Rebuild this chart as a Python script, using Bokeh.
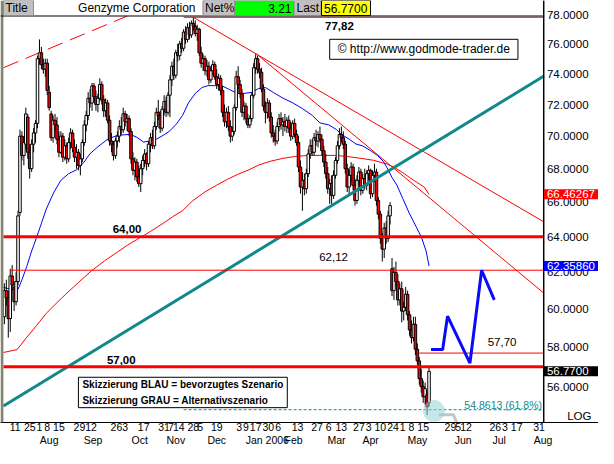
from bokeh.plotting import figure
from bokeh.models import (Range1d, FixedTicker, PrintfTickFormatter, LinearAxis, Label,
                          ColumnDataSource, Span, BoxAnnotation)
from bokeh.embed import file_html
from bokeh.resources import INLINE

FONT = "Liberation Sans"

# ---------------- data (trading-day index t, 0 = 11 Jul 2005) ----------------
t_first = -4
opens = [59.6, 61.0, 60.6, 59.5, 61.8, 61.2, 60.4, 61.5, 65.4, 70.0,
         68.8, 69.5, 71.2, 69.0, 68.0, 69.5, 70.2, 70.8, 75.0, 75.4,
         74.6, 74.3, 74.7, 72.8, 71.4, 69.9, 71.0, 70.7, 69.8, 69.0,
         70.0, 68.7, 69.4, 68.6, 69.6, 70.2, 69.3, 68.7, 69.0, 68.2,
         68.6, 69.6, 70.7, 71.3, 72.4, 72.1, 73.2, 72.5, 72.0, 72.4,
         73.3, 72.3, 71.6, 72.1, 71.0, 69.7, 69.5, 68.8, 69.7, 70.0,
         70.6, 70.4, 71.4, 70.9, 71.1, 70.3, 68.6, 67.9, 68.4, 67.5,
         67.1, 68.0, 68.5, 68.9, 68.3, 69.5, 69.9, 69.4, 70.6, 71.5,
         71.3, 70.5, 71.7, 72.2, 71.5, 72.6, 73.6, 74.5, 73.9, 75.4,
         75.2, 76.0, 75.7, 76.8, 76.3, 77.1, 76.6, 77.4, 77.2, 76.7,
         77.0, 75.4, 74.7, 75.0, 74.2, 74.5, 73.6, 74.2, 74.6, 73.8,
         73.3, 73.7, 72.9, 71.5, 70.9, 71.5, 70.6, 70.0, 70.3, 71.8,
         73.8, 73.3, 72.7, 71.5, 71.9, 71.1, 70.7, 71.1, 72.6, 74.4,
         75.0, 74.3, 74.1, 73.0, 71.9, 71.5, 72.1, 71.2, 70.2, 70.0,
         69.7, 70.6, 71.1, 70.7, 70.9, 70.6, 71.0, 70.5, 70.0, 70.8,
         70.1, 69.6, 68.1, 66.9, 67.3, 66.8, 67.7, 68.9, 69.4, 69.0,
         69.9, 69.7, 70.1, 69.8, 69.1, 68.4, 67.7, 66.8, 67.1, 66.4,
         67.6, 68.5, 69.4, 70.1, 69.9, 69.5, 68.0, 66.9, 67.6, 68.1,
         67.0, 66.1, 67.3, 67.8, 66.7, 67.4, 67.0, 67.7, 67.9, 66.5,
         67.6, 67.8, 66.1, 65.3, 63.9, 63.3, 64.5, 63.9, 65.2, 62.2,
         61.0, 62.0, 61.5, 60.5, 61.1, 59.9, 60.1, 60.8, 59.7, 58.9,
         58.5, 59.2, 57.9, 57.3, 56.4, 56.0, 55.5, 55.6, 55.2]
highs = [61.4, 61.6, 61.0, 62.2, 62.4, 61.5, 62.0, 65.5, 70.4, 70.3,
         70.0, 71.8, 71.4, 69.5, 69.8, 70.5, 71.0, 75.2, 76.3, 75.8,
         75.0, 75.0, 75.0, 73.2, 71.6, 71.3, 71.4, 71.2, 70.3, 70.3,
         70.2, 69.8, 69.6, 69.9, 70.5, 70.4, 69.8, 69.5, 69.2, 68.9,
         69.8, 71.0, 71.6, 72.8, 73.0, 73.4, 73.4, 72.9, 72.7, 73.7,
         73.5, 72.6, 72.4, 72.3, 71.3, 70.2, 69.7, 69.9, 70.3, 71.0,
         71.2, 71.8, 71.6, 71.4, 71.3, 70.5, 69.0, 68.7, 68.6, 68.2,
         68.3, 68.8, 69.2, 69.0, 69.7, 70.2, 70.4, 70.9, 71.8, 72.3,
         71.6, 71.9, 72.6, 72.5, 72.8, 73.9, 74.8, 75.0, 75.6, 76.0,
         76.2, 76.4, 77.0, 77.2, 77.4, 77.5, 77.6, 77.82, 77.6, 77.3,
         77.1, 75.8, 75.3, 75.2, 74.9, 74.8, 74.4, 74.9, 74.8, 74.3,
         74.0, 73.9, 73.2, 72.0, 71.8, 71.9, 71.0, 70.6, 72.0, 74.2,
         74.5, 73.6, 73.0, 72.2, 72.1, 71.4, 71.3, 72.8, 74.7, 75.3,
         75.2, 74.7, 74.4, 73.3, 72.2, 72.4, 72.3, 71.5, 70.7, 70.4,
         70.9, 71.4, 71.5, 71.2, 71.4, 71.2, 71.3, 70.9, 71.0, 71.1,
         70.4, 70.0, 68.5, 67.8, 67.7, 68.0, 69.2, 69.8, 69.8, 70.2,
         70.4, 70.3, 70.6, 70.1, 69.4, 68.9, 68.1, 67.4, 67.6, 67.9,
         68.7, 69.7, 70.5, 70.6, 70.3, 69.7, 68.3, 67.9, 68.4, 68.3,
         67.4, 67.6, 68.1, 68.0, 67.7, 68.0, 67.9, 68.2, 68.0, 67.9,
         68.3, 68.0, 66.3, 65.5, 64.2, 64.8, 64.9, 65.5, 66.0, 62.8,
         62.3, 62.6, 61.9, 61.4, 61.5, 60.4, 61.2, 61.0, 59.9, 59.4,
         59.6, 59.6, 58.2, 57.5, 56.9, 56.3, 56.2, 55.8, 57.0]
lows = [59.2, 60.2, 58.5, 58.8, 61.0, 59.9, 60.2, 61.3, 65.2, 68.5,
        68.2, 69.2, 68.6, 67.4, 67.8, 69.0, 69.6, 70.5, 74.6, 74.3,
        74.0, 73.8, 72.6, 71.6, 69.7, 69.6, 70.3, 69.5, 68.7, 68.9,
        68.4, 68.5, 68.3, 68.4, 69.2, 69.0, 68.4, 68.0, 67.9, 67.6,
        68.4, 69.4, 70.3, 71.0, 71.8, 71.6, 72.2, 71.6, 71.5, 72.2,
        72.0, 71.2, 71.2, 70.8, 69.4, 69.0, 68.5, 68.6, 69.3, 69.6,
        70.1, 70.2, 70.6, 70.3, 70.0, 68.3, 67.6, 67.3, 67.2, 66.9,
        66.6, 67.6, 68.1, 67.9, 68.1, 69.0, 69.2, 69.2, 70.4, 71.0,
        70.2, 70.3, 71.3, 71.2, 71.3, 71.2, 73.2, 73.6, 73.7, 74.8,
        74.9, 75.4, 75.5, 76.0, 76.1, 76.3, 76.4, 76.9, 76.5, 76.2,
        75.2, 74.4, 74.2, 73.9, 73.8, 73.3, 73.4, 73.9, 73.6, 73.0,
        72.9, 72.6, 71.2, 70.6, 70.5, 70.3, 69.6, 69.7, 70.1, 71.6,
        73.0, 72.4, 71.2, 71.0, 70.8, 70.5, 70.5, 70.9, 72.4, 74.0,
        74.0, 73.7, 72.8, 71.6, 70.8, 71.1, 70.9, 69.9, 69.6, 69.4,
        69.5, 70.3, 70.4, 70.0, 70.3, 70.2, 70.2, 69.7, 69.8, 69.9,
        69.4, 67.8, 66.5, 65.5, 66.4, 66.5, 67.5, 68.6, 68.8, 68.8,
        69.4, 69.3, 69.6, 68.8, 68.1, 67.4, 66.5, 65.9, 65.9, 66.2,
        67.4, 68.3, 69.2, 69.6, 69.2, 67.7, 66.6, 66.4, 67.2, 66.7,
        65.8, 65.9, 67.0, 66.4, 66.5, 66.8, 66.7, 67.3, 66.2, 66.3,
        67.2, 65.8, 65.0, 63.6, 62.6, 62.8, 63.6, 63.7, 64.7, 60.7,
        60.5, 61.2, 60.2, 60.2, 59.3, 59.4, 59.9, 59.4, 58.6, 58.2,
        58.3, 57.6, 57.1, 56.1, 55.7, 55.2, 55.1, 54.6, 55.0]
closes = [61.0, 60.6, 59.5, 61.8, 61.3, 60.4, 61.5, 65.2, 70.0, 68.8,
          69.6, 71.4, 69.0, 68.0, 69.5, 70.2, 70.8, 75.0, 75.4, 74.6,
          74.3, 74.7, 72.9, 71.8, 69.9, 71.0, 70.7, 69.8, 69.0, 70.0,
          68.7, 69.4, 68.6, 69.6, 70.2, 69.3, 68.7, 69.0, 68.2, 68.6,
          69.6, 70.7, 71.3, 72.4, 72.1, 73.2, 72.5, 72.0, 72.4, 73.3,
          72.3, 71.6, 72.1, 71.0, 69.7, 69.5, 68.8, 69.7, 70.0, 70.6,
          70.4, 71.4, 70.9, 71.1, 70.3, 68.6, 67.9, 68.4, 67.5, 67.1,
          68.0, 68.5, 68.9, 68.3, 69.5, 69.9, 69.4, 70.6, 71.5, 71.3,
          70.5, 71.7, 72.2, 71.5, 72.6, 73.6, 74.5, 73.9, 75.4, 75.2,
          76.0, 75.7, 76.8, 76.3, 77.1, 76.6, 77.4, 77.2, 76.7, 77.0,
          75.4, 74.7, 75.0, 74.2, 74.5, 73.6, 74.2, 74.6, 73.8, 73.3,
          73.7, 72.9, 71.5, 70.9, 71.5, 70.6, 70.0, 70.3, 71.8, 73.8,
          73.3, 72.7, 71.5, 71.9, 71.1, 70.7, 71.1, 72.6, 74.4, 75.0,
          74.3, 74.1, 73.0, 71.9, 71.5, 72.1, 71.2, 70.2, 70.0, 69.7,
          70.6, 71.1, 70.7, 70.9, 70.6, 71.0, 70.5, 70.0, 70.8, 70.1,
          69.6, 68.1, 66.9, 67.3, 66.8, 67.7, 68.9, 69.4, 69.0, 69.9,
          69.7, 70.1, 69.8, 69.1, 68.4, 67.7, 66.8, 67.1, 66.4, 67.6,
          68.5, 69.4, 70.1, 69.9, 69.5, 68.0, 66.9, 67.6, 68.1, 67.0,
          66.1, 67.3, 67.8, 66.7, 67.4, 67.0, 67.7, 67.9, 66.5, 67.6,
          67.8, 66.1, 65.3, 63.9, 63.3, 64.5, 63.9, 65.2, 65.8, 61.0,
          62.0, 61.5, 60.5, 61.1, 59.9, 60.1, 60.8, 59.7, 58.9, 58.5,
          59.2, 57.9, 57.3, 56.4, 56.0, 55.5, 55.9, 55.0, 56.77]
days = list(range(t_first, t_first + len(closes)))

# short moving average (blue)
ma_s_t = [-4.5, 0, 3, 5, 7.5, 10, 12.5, 15, 17.5, 21.5, 25, 29, 33, 36.5, 40, 44, 49, 54,
          60.5, 64, 67.5, 70.5, 74, 77.5, 80.5, 84, 87.5, 90.5, 94, 97.5, 100.5, 104, 107.5,
          111.5, 115.5, 119, 123, 126.5, 130, 134, 139, 144, 149, 154, 158, 162.5, 166.5,
          169, 173, 176.5, 180, 184, 187.5, 190.5, 192.5, 195, 197.5, 200.5, 204, 207.5,
          210, 212.5, 214]
ma_s_v = [61.17, 61.07, 61.07, 61.59, 62.33, 63.19, 63.95, 64.77, 65.60, 66.61, 67.30,
          67.70, 67.93, 68.34, 68.92, 69.34, 69.81, 70.05, 70.11, 69.93, 69.63, 69.69,
          69.81, 70.05, 70.29, 70.71, 71.31, 72.11, 72.72, 73.10, 73.22, 73.22, 73.22,
          72.97, 72.72, 72.72, 72.78, 73.03, 73.10, 72.78, 72.41, 72.11, 71.74, 71.31,
          70.83, 70.71, 70.41, 70.11, 69.81, 69.51, 69.39, 69.10, 68.81, 68.45, 68.05,
          67.47, 67.01, 66.22, 65.32, 64.55, 64.00, 63.19, 62.3586]
# 200-day moving average (red)
ma_l_t = [-4.5, 2.5, 7.5, 12.5, 17.5, 22.5, 27.5, 34, 40.5, 47.5, 54, 59, 64, 70.5, 77.5,
          82.5, 87.5, 92.5, 99, 105, 110.5, 115.5, 121.5, 126.5, 132.5, 139, 145.5, 152.5,
          159, 165.5, 171.5, 179, 185.5, 192.5, 196.5, 200.5, 204, 207.5, 211.5, 214]
ma_l_v = [57.73, 57.88, 58.52, 59.13, 59.78, 60.30, 60.81, 61.44, 62.07, 62.65, 63.13,
          63.51, 63.84, 64.27, 64.77, 65.16, 65.51, 66.07, 66.61, 67.01, 67.36, 67.64,
          67.93, 68.22, 68.45, 68.63, 68.75, 68.81, 68.81, 68.81, 68.75, 68.63, 68.51,
          68.28, 68.05, 67.76, 67.47, 67.20, 66.90, 66.46267]

# trend lines (t, price)
trend_a_t, trend_a_v = [93, 273], [77.82, 64.85]
trend_b_t, trend_b_v = [125.5, 273], [75.31, 60.86]
trend_old_t, trend_old_v = [-4.5, 59], [74.40, 77.90]
trend_up_t, trend_up_v = [-4.5, 273], [55.04, 73.85]

# horizontal levels
level_high = 77.82
level_64 = 64.00
level_6212 = 62.12
level_5770 = 57.70
level_57 = 57.00
level_fib = 54.8613

# scenarios
scen_blue_t = [215, 221, 223.5, 235, 241, 247.5]
scen_blue_v = [57.88, 57.88, 59.63, 57.19, 62.12, 60.50]
scen_grey_t = [219, 226.5, 233]
scen_grey_v = [54.62, 54.62, 53.15]

net_pct = 3.21

price_ticks = [56, 58, 60, 62, 64, 66, 68, 70, 72, 74, 76, 78]
day_tick_pos = [1.5, 9, 14, 18, 24, 34.5, 40.5, 53.5, 58, 67.5, 78, 81.5, 85.5, 93, 96.5, 105,
                116.5, 120, 125, 131.5, 136.5, 146.5, 156.5, 162.5, 169, 178, 183, 189, 195.5,
                200.5, 205, 211, 225, 229, 233, 248, 253, 259, 270.5]
day_tick_lbl = ["11", "25", "1", "8", "15", "29", "12", "26", "3", "17", "31", "7", "14", "28",
                "5", "19", "3", "9", "17", "30", "6", "13", "27", "6", "13", "27", "3", "10",
                "24", "1", "8", "15", "29", "5", "12", "26", "3", "17", "31"]
month_tick_pos = [19, 41.5, 65.5, 84, 105, 131, 144.5, 166.5, 184, 208, 231.5, 250, 272.5]
month_tick_lbl = ["Aug", "Sep", "Oct", "Nov", "Dec", "Jan 2006", "Feb", "Mar", "Apr", "May",
                  "Jun", "Jul", "Aug"]

T_END = 273      # right edge of the price area (value scale drawn there)

# ---------------- figure ----------------
p = figure(width=598, height=448, x_range=Range1d(-6, 301), y_range=Range1d(54.24, 78.99),
           y_axis_type="log", y_axis_location="right", output_backend="svg",
           toolbar_location=None, min_border_left=0, min_border_right=0,
           min_border_top=0, min_border_bottom=0)
p.grid.visible = False
p.outline_line_color = None
p.background_fill_color = "white"
p.border_fill_color = "white"

ya = p.yaxis[0]
ya.fixed_location = T_END
ya.ticker = FixedTicker(ticks=price_ticks)
ya.formatter = PrintfTickFormatter(format="%.4f")
ya.major_tick_in = 0
ya.major_tick_out = 0
ya.minor_tick_in = 0
ya.minor_tick_out = 0
ya.major_label_standoff = 3
ya.major_label_text_font = FONT
ya.major_label_text_font_size = "11.5px"
ya.major_label_text_color = "black"
ya.axis_line_color = "black"

xa = p.xaxis[0]
xa.ticker = FixedTicker(ticks=day_tick_pos)
xa.major_label_overrides = {float(k): v for k, v in zip(day_tick_pos, day_tick_lbl)}
xa.major_tick_in = 0
xa.major_tick_out = 0
xa.minor_tick_in = 0
xa.minor_tick_out = 0
xa.major_label_standoff = 0
xa.major_label_text_font = FONT
xa.major_label_text_font_size = "10.5px"
xa.major_label_text_color = "black"
xa.axis_line_color = "black"

mx = LinearAxis(ticker=FixedTicker(ticks=month_tick_pos),
                major_label_overrides={float(k): v for k, v in zip(month_tick_pos, month_tick_lbl)},
                major_tick_in=0, major_tick_out=0, minor_tick_in=0, minor_tick_out=0,
                axis_line_color=None, major_label_standoff=0,
                major_label_text_font=FONT, major_label_text_font_size="10.5px",
                major_label_text_color="black")
p.add_layout(mx, "below")


def cbox(left, right, top, bottom, fill, line=None):
    p.add_layout(BoxAnnotation(left=left, right=right, top=top, bottom=bottom,
                               left_units="canvas", right_units="canvas",
                               top_units="canvas", bottom_units="canvas",
                               fill_color=fill, fill_alpha=1.0, line_color=line,
                               line_alpha=1.0, line_width=1))


def lab(x, y, text, xu="data", yu="data", **kw):
    opts = dict(text_font=FONT, text_font_size="11.5px", text_color="black")
    opts.update(kw)
    p.add_layout(Label(x=x, y=y, x_units=xu, y_units=yu, text=text, **opts))


# frame decorations: left strip, value-scale border, title-bar underline
p.add_layout(BoxAnnotation(right=-4.5, fill_color="#858570", fill_alpha=1.0, line_color=None))
p.add_layout(Span(location=T_END, dimension="height", line_color="black", line_width=1))
p.add_layout(BoxAnnotation(left=-6, right=T_END, top=15, bottom=16, top_units="canvas",
                           bottom_units="canvas", fill_color="black", fill_alpha=1.0,
                           line_color=None))

# candles
src = ColumnDataSource(dict(
    t=days, o=opens, h=highs, l=lows, c=closes,
    top=[max(o, c) for o, c in zip(opens, closes)],
    bot=[min(o, c) for o, c in zip(opens, closes)],
    col=["#ffffff" if c >= o else "#ff0000" for o, c in zip(opens, closes)]))

p.line(ma_l_t, ma_l_v, line_color="#ff0000", line_width=1)
p.line(ma_s_t, ma_s_v, line_color="#0000ff", line_width=1)
p.segment(x0="t", y0="l", x1="t", y1="h", source=src, line_color="black", line_width=1)
p.vbar(x="t", width=1.3, top="top", bottom="bot", fill_color="col", line_color="black",
       line_width=1, source=src)

# trend lines and levels
p.line(trend_a_t, trend_a_v, line_color="#ff0000", line_width=1)
p.line(trend_b_t, trend_b_v, line_color="#ff0000", line_width=1)
p.line(trend_old_t, trend_old_v, line_color="#ff0000", line_width=1, line_dash="16 8")
p.line(trend_up_t, trend_up_v, line_color="#11898a", line_width=3)
p.line([88, T_END], [level_high, level_high], line_color="#ff0000", line_width=1)
p.line([-4.5, T_END], [level_64, level_64], line_color="#ff0000", line_width=3)
p.line([-1, T_END], [level_6212, level_6212], line_color="#ff0000", line_width=1)
p.line([209, T_END], [level_5770, level_5770], line_color="#ff0000", line_width=1)
p.line([-4.5, T_END], [level_57, level_57], line_color="#ff0000", line_width=3)
p.line([88, T_END], [level_fib, level_fib], line_color="#11898a", line_width=1, line_dash="3 2")

p.line(scen_grey_t, scen_grey_v, line_color="#c4c4c4", line_width=3)
p.line(scen_blue_t, scen_blue_v, line_color="#0a0aff", line_width=3)
p.scatter([216.5], [54.8], size=22, marker="circle", fill_color="#96d4d4", fill_alpha=0.55,
          line_color=None)

# level labels
lab(168, 77.19, "77,82", text_font_style="bold", text_align="center", text_baseline="middle")
lab(59, 64.44, "64,00", text_font_style="bold", text_align="center", text_baseline="middle")
lab(165, 62.87, "62,12", text_align="center", text_baseline="middle")
lab(56, 57.34, "57,00", text_font_style="bold", text_align="center", text_baseline="middle")
lab(251.5, 58.28, "57,70", text_align="center", text_baseline="middle")
lab(272, 55.09, "54.8613 (61.8%)", text_align="right", text_baseline="middle",
    text_color="#11898a", text_font_size="10.5px")

lab(163, 75.63, "\u00a9 http://www.godmode-trader.de", text_font_size="12px",
    text_baseline="middle", background_fill_color="white", border_line_color="black",
    padding=(8, 8, 3, 3))
lab(34, 56.47, "Skizzierung BLAU = bevorzugtes Szenario\nSkizzierung GRAU = Alternativszenario",
    text_font_style="bold", text_font_size="10px", text_line_height=1.4, text_baseline="top",
    background_fill_color="white", border_line_color="black", padding=(4, 4, 2, 2))

# value boxes on the price scale
lab(T_END, ma_l_v[-1], f"{ma_l_v[-1]:.5f}", text_color="white", text_baseline="middle",
    background_fill_color="#ff0000", padding=(3, 12, 1, 1))
lab(T_END, ma_s_v[-1], f"{ma_s_v[-1]:.5f}", text_color="white", text_baseline="middle",
    background_fill_color="#0000ff", padding=(3, 12, 1, 1))
lab(T_END, closes[-1], f"{closes[-1]:.4f}", text_color="white", text_baseline="middle",
    background_fill_color="black", padding=(3, 18, 1, 1))
lab(591, 54.27, "LOG", xu="canvas", text_align="right", text_baseline="bottom")

# title bar (boxes, then texts)
cbox(3, 33, 0, 15, "#c0c0c0", "#8c8c8c")
cbox(202.5, 234, 0, 15, "#c0c0c0", "#8c8c8c")
cbox(234, 293, 0, 15, "#00ff00", "#8c8c8c")
cbox(293.5, 320.5, 0, 15, "#c0c0c0", "#8c8c8c")
cbox(321, 370, 0, 15, "#ffff00", "black")
lab(5, 7.5, "Title", xu="canvas", yu="canvas", text_font_size="12px", text_baseline="middle")
lab(195, 7.5, "Genzyme Corporation", xu="canvas", yu="canvas", text_font_size="12px",
    text_baseline="middle", text_align="right")
lab(204.5, 7.5, "Net%", xu="canvas", yu="canvas", text_font_size="12px", text_baseline="middle")
lab(291, 7.5, f"{net_pct:.2f}", xu="canvas", yu="canvas", text_font_size="12px",
    text_baseline="middle", text_align="right")
lab(296, 7.5, "Last", xu="canvas", yu="canvas", text_font_size="12px", text_baseline="middle")
lab(323.5, 7.5, f"{closes[-1]:.4f}", xu="canvas", yu="canvas", text_font_size="12px",
    text_baseline="middle")

open("out.html", "w").write(file_html(p, INLINE))
